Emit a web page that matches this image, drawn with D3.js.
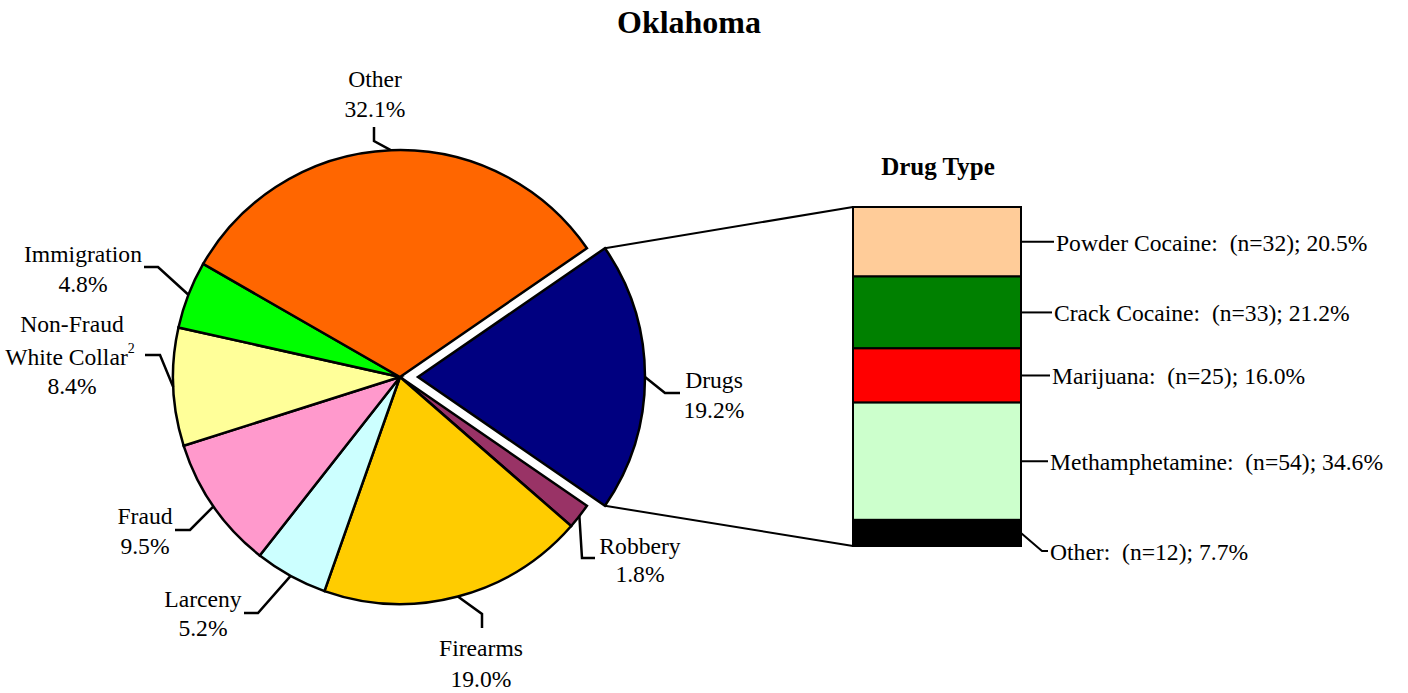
<!DOCTYPE html>
<meta charset="utf-8">
<head>
<script src="https://cdn.jsdelivr.net/npm/d3@7/dist/d3.min.js"></script>
<style>
  body { margin: 0; background: #fff; }
  text { font-family: "Liberation Serif", "Times New Roman", serif; fill: #000; }
</style>
</head>
<body>
<div id="chart"></div>
<script>
// offense types, clockwise starting with Drugs
var categories = ["Drugs", "Robbery", "Firearms", "Larceny", "Fraud", "Non-Fraud White Collar", "Immigration", "Other"];
var shares = [19.2, 1.8, 19.0, 5.2, 9.5, 8.4, 4.8, 32.1];
var colors = ["#000080", "#993366", "#FFCC00", "#CCFFFF", "#FF99CC", "#FFFF99", "#00FF00", "#FF6600"];

// drug type breakdown
var drugTypes = ["Powder Cocaine", "Crack Cocaine", "Marijuana", "Methamphetamine", "Other"];
var drugCounts = [32, 33, 25, 54, 12];
var drugShares = [20.5, 21.2, 16.0, 34.6, 7.7];
var drugColors = ["#FFCC99", "#008000", "#FF0000", "#CCFFCC", "#000000"];

var W = 1408, H = 693;
var cx = 400, cy = 377, R = 227, explode = 18;
var FS = "23.6px";

var svg = d3.select("#chart").append("svg").attr("width", W).attr("height", H);

svg.append("text").attr("x", 689).attr("y", 22).attr("text-anchor", "middle")
    .attr("dominant-baseline", "central").style("font-size", "32px").style("font-weight", "bold")
    .text("Oklahoma");

// pie - Drugs wedge centred on 3 o'clock
var a0 = Math.PI / 2 - shares[0] / 100 * Math.PI;
var pie = d3.pie().sort(null).startAngle(a0).endAngle(a0 + 2 * Math.PI);
var arcs = pie(shares);
var arc = d3.arc().innerRadius(0).outerRadius(R);

var g = svg.append("g").attr("transform", "translate(" + cx + "," + cy + ")");

function offset(d, i) {
    if (i !== 0) return [0, 0];
    var m = (d.startAngle + d.endAngle) / 2;
    return [explode * Math.sin(m), -explode * Math.cos(m)];
}

g.selectAll("path.slice").data(arcs).enter().append("path")
    .attr("class", "slice")
    .attr("d", arc)
    .attr("transform", function (d, i) { var o = offset(d, i); return "translate(" + o[0] + "," + o[1] + ")"; })
    .attr("fill", function (d, i) { return colors[i]; })
    .attr("stroke", "#000").attr("stroke-width", 2.5).attr("stroke-linejoin", "miter");

// leader elbows and label spots (layout only)
var leaders = [
    { elbow: [665, 393], end: [680, 393], lx: 714, ly: [380, 410] },
    { elbow: [582, 558], end: [595, 558], lx: 640, ly: [546, 574] },
    { elbow: [482, 614], end: [482, 628], lx: 481, ly: [648, 679] },
    { elbow: [258, 613], end: [244, 613], lx: 203, ly: [599, 628] },
    { elbow: [190, 530], end: [175, 530], lx: 145, ly: [516, 546] },
    { elbow: [160, 355], end: [145, 355], lx: 72, ly: [324, 357, 386] },
    { elbow: [158, 267], end: [144, 267], lx: 83, ly: [254, 284] },
    { elbow: [374, 141], end: [374, 127], lx: 375, ly: [79, 109] }
];

arcs.forEach(function (d, i) {
    var m = (d.startAngle + d.endAngle) / 2, o = offset(d, i);
    var p = [cx + o[0] + R * Math.sin(m), cy + o[1] - R * Math.cos(m)];
    var L = leaders[i];
    svg.append("polyline")
        .attr("points", [p, L.elbow, L.end].map(function (q) { return q.join(","); }).join(" "))
        .attr("fill", "none").attr("stroke", "#000").attr("stroke-width", 2.5);

    var pct = shares[i].toFixed(1) + "%";
    var lines = categories[i] === "Non-Fraud White Collar" ? ["Non-Fraud", "White Collar", pct] : [categories[i], pct];
    lines.forEach(function (t, k) {
        var tx = svg.append("text").attr("x", L.lx).attr("y", L.ly[k])
            .attr("text-anchor", "middle").attr("dominant-baseline", "central")
            .style("font-size", FS);
        if (t === "White Collar") {
            tx.attr("x", L.lx - 2);
            tx.append("tspan").text(t);
            tx.append("tspan").attr("dy", -9).style("font-size", "14px").text("2");
        } else {
            tx.text(t);
        }
    });
});

// stacked bar for drug types
var bx0 = 853, bx1 = 1021;
var y = d3.scaleLinear().domain([0, d3.sum(drugShares)]).range([207, 546]);
var cum = d3.cumsum(drugShares);
var segs = drugShares.map(function (v, i) { return { v: v, y0: cum[i] - v, y1: cum[i] }; });

// connectors from exploded wedge to the bar
var dr = arcs[0], od = offset(dr, 0);
var pTop = [cx + od[0] + R * Math.sin(dr.startAngle), cy + od[1] - R * Math.cos(dr.startAngle)];
var pBot = [cx + od[0] + R * Math.sin(dr.endAngle), cy + od[1] - R * Math.cos(dr.endAngle)];
svg.append("line").attr("x1", pTop[0]).attr("y1", pTop[1]).attr("x2", bx0).attr("y2", y(0))
    .attr("stroke", "#000").attr("stroke-width", 2);
svg.append("line").attr("x1", pBot[0]).attr("y1", pBot[1]).attr("x2", bx0).attr("y2", y(100))
    .attr("stroke", "#000").attr("stroke-width", 2);

svg.selectAll("rect.seg").data(segs).enter().append("rect")
    .attr("class", "seg")
    .attr("x", bx0).attr("width", bx1 - bx0)
    .attr("y", function (d) { return y(d.y0); })
    .attr("height", function (d) { return y(d.y1) - y(d.y0); })
    .attr("fill", function (d, i) { return drugColors[i]; })
    .attr("stroke", "#000").attr("stroke-width", 2);

svg.append("text").attr("x", 938).attr("y", 166).attr("text-anchor", "middle")
    .attr("dominant-baseline", "central").style("font-size", "25px").style("font-weight", "bold")
    .text("Drug Type");

var legEnd = [1054, 1052, 1050, 1048, 1048];
segs.forEach(function (d, i) {
    var my = (y(d.y0) + y(d.y1)) / 2;
    var pts;
    if (i === segs.length - 1) {
        pts = [[bx1, my], [1042, my + 18], [legEnd[i], my + 18]];
        my = my + 18;
    } else {
        pts = [[bx1, my], [legEnd[i], my]];
    }
    svg.append("polyline").attr("points", pts.map(function (q) { return q.join(","); }).join(" "))
        .attr("fill", "none").attr("stroke", "#000").attr("stroke-width", 2);
    svg.append("text").attr("x", legEnd[i] + 2).attr("y", my + 1)
        .attr("dominant-baseline", "central").style("font-size", FS)
        .style("white-space", "pre")
        .text(drugTypes[i] + ":\u00a0 (n=" + drugCounts[i] + "); " + d.v.toFixed(1) + "%");
});
</script>
</body>
</html>
